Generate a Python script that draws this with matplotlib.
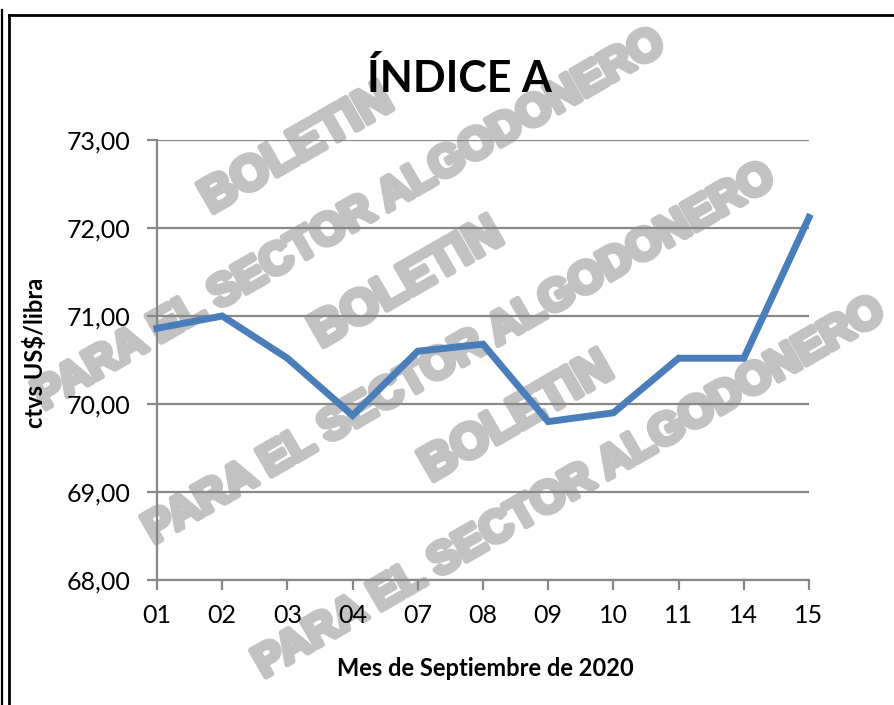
import matplotlib
matplotlib.use("Agg")
import matplotlib.pyplot as plt
import matplotlib.patheffects as pe
from matplotlib.lines import Line2D
from matplotlib.ticker import FuncFormatter

# ---- data ----
days = ["01", "02", "03", "04", "07", "08", "09", "10", "11", "14", "15"]
index_a = [70.86, 71.00, 70.52, 69.87, 70.60, 70.68, 69.80, 69.90, 70.52, 70.52, 72.12]
y_ticks = [68, 69, 70, 71, 72, 73]

title = "ÍNDICE A"
x_label = "Mes de Septiembre de 2020"
y_label = "ctvs US$/libra"
wm_top = "BOLETIN"
wm_bottom = "PARA EL SECTOR ALGODONERO"

W, H = 895, 705
fig = plt.figure(figsize=(W / 100, H / 100), dpi=100)
fig.patch.set_facecolor("white")

def fx(px):
    return px / W

def fy(py):
    return 1 - py / H

# watermark (behind everything)
wm_color = "#c2c2c2"
wm_fx = [pe.withStroke(linewidth=4, foreground=wm_color)]
for (bx, by), (px, py) in [((297, 150), (350, 220)),
                           ((407, 284), (460, 354)),
                           ((517, 418), (570, 488))]:
    fig.text(fx(bx), fy(by), wm_top, rotation=30, rotation_mode="anchor",
             ha="center", va="center", fontsize=35, fontweight="bold",
             family="Liberation Sans", color=wm_color, zorder=-5,
             path_effects=wm_fx)
    fig.text(fx(px), fy(py), wm_bottom, rotation=30, rotation_mode="anchor",
             ha="center", va="center", fontsize=32, fontweight="bold",
             family="Liberation Sans", color=wm_color, zorder=-5,
             path_effects=wm_fx)

ax = fig.add_axes([fx(157), fy(580), fx(809 - 157), (580 - 140) / H])
ax.set_facecolor("none")
ax.set_zorder(1)

x = list(range(len(days)))
ax.plot(x, index_a, color="#4a7ebb", linewidth=5, solid_joinstyle="miter",
        zorder=3, clip_on=False)

ax.set_xlim(0, len(days) - 1)
ax.set_ylim(68, 73)
ax.set_xticks(x)
ax.set_xticklabels(days)
ax.set_yticks(y_ticks)
ax.yaxis.set_major_formatter(FuncFormatter(lambda v, p: f"{v:.2f}".replace(".", ",")))

grid_c = "#888888"
ax.grid(axis="y", color=grid_c, linewidth=1.6, zorder=1)
ax.set_axisbelow(True)
for s in ["top", "right"]:
    ax.spines[s].set_visible(False)
for s in ["left", "bottom"]:
    ax.spines[s].set_color(grid_c)
    ax.spines[s].set_linewidth(1.6)

ax.tick_params(axis="both", direction="out", color=grid_c, width=1.6, length=7,
               labelcolor="black")
ax.tick_params(axis="x", pad=10)
ax.tick_params(axis="y", pad=12)
for lbl in ax.get_xticklabels() + ax.get_yticklabels():
    lbl.set_fontfamily("Lato")
    lbl.set_fontsize(18)

fig.text(fx(459), fy(78), title, ha="center", va="center",
         family="Lato", fontweight="bold", fontsize=31)
fig.text(fx(485), fy(669), x_label, ha="center", va="center",
         family="Lato", fontweight="bold", fontsize=17)
fig.text(fx(35), fy(353), y_label, ha="center", va="center", rotation=90,
         family="Lato", fontweight="bold", fontsize=17)

# outer frame lines
fig.add_artist(Line2D([fx(2), fx(2)], [fy(10), 0], color="black", linewidth=1.6,
                      transform=fig.transFigure))
fig.add_artist(Line2D([fx(9), fx(9)], [fy(15), 0], color="black", linewidth=2.0,
                      transform=fig.transFigure))
fig.add_artist(Line2D([fx(9), 1], [fy(15), fy(15)], color="black", linewidth=2.0,
                      transform=fig.transFigure))

fig.savefig("out.png", dpi=100)
